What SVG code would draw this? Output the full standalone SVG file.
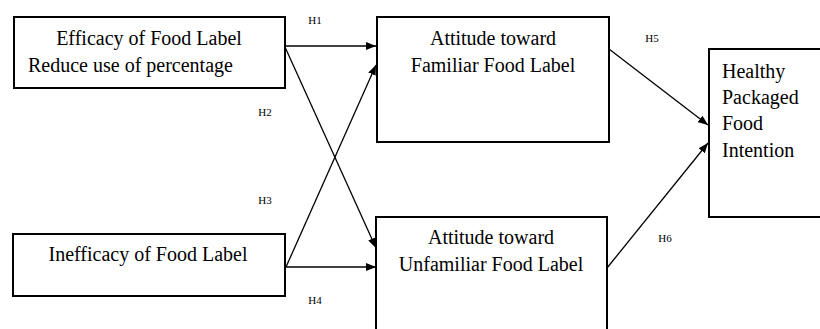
<svg xmlns="http://www.w3.org/2000/svg" width="820" height="329" viewBox="0 0 820 329">
<style>
.box{fill:#fff;stroke:#000;stroke-width:2}
.t{font-family:"Liberation Serif","Times New Roman",serif;font-size:20px;fill:#000}
.h{font-family:"Liberation Serif","Times New Roman",serif;font-size:11px;fill:#000}
.c{stroke:#000;stroke-width:1.3;fill:none;marker-end:url(#ah)}
</style>
<defs>
<marker id="ah" viewBox="0 0 10 8" refX="10" refY="4" markerWidth="10" markerHeight="8" markerUnits="userSpaceOnUse" orient="auto">
<path d="M0,0 L10,4 L0,8 Z" fill="#000"/>
</marker>
</defs>
<rect width="820" height="329" fill="#fff"/>
<g id="connectors">
<line class="c" x1="285" y1="46" x2="376" y2="46"/>
<line class="c" x1="285" y1="47" x2="376" y2="248"/>
<line class="c" x1="286" y1="267" x2="376" y2="65"/>
<line class="c" x1="286" y1="267" x2="376" y2="267"/>
<line class="c" x1="609" y1="49" x2="708" y2="125"/>
<line class="c" x1="607" y1="268" x2="708" y2="143"/>
</g>
<g id="labels">
<text class="h" x="315" y="24" text-anchor="middle">H1</text>
<text class="h" x="265" y="116" text-anchor="middle">H2</text>
<text class="h" x="265" y="204" text-anchor="middle">H3</text>
<text class="h" x="315" y="304" text-anchor="middle">H4</text>
<text class="h" x="652" y="42" text-anchor="middle">H5</text>
<text class="h" x="665" y="242" text-anchor="middle">H6</text>
</g>
<g id="efficacy">
<rect class="box" x="14" y="17" width="271" height="71"/>
<text class="t" x="149" y="45" text-anchor="middle">Efficacy of Food Label</text>
<text class="t" x="28" y="72">Reduce use of percentage</text>
</g>
<g id="inefficacy">
<rect class="box" x="13" y="234" width="272" height="62"/>
<text class="t" x="148" y="261" text-anchor="middle">Inefficacy of Food Label</text>
</g>
<g id="familiar">
<rect class="box" x="377" y="17" width="232" height="125"/>
<text class="t" x="493" y="45" text-anchor="middle">Attitude toward</text>
<text class="t" x="493" y="72" text-anchor="middle">Familiar Food Label</text>
</g>
<g id="unfamiliar">
<rect class="box" x="376" y="217" width="231" height="130"/>
<text class="t" x="491" y="244" text-anchor="middle">Attitude toward</text>
<text class="t" x="491" y="271" text-anchor="middle">Unfamiliar Food Label</text>
</g>
<g id="intention">
<rect class="box" x="709" y="49" width="130" height="168"/>
<text class="t" x="722" y="78">Healthy</text>
<text class="t" x="722" y="104">Packaged</text>
<text class="t" x="722" y="130">Food</text>
<text class="t" x="722" y="157">Intention</text>
</g>
</svg>
